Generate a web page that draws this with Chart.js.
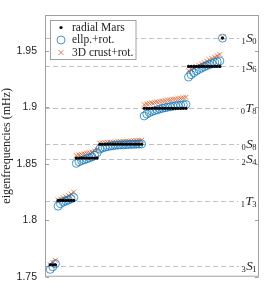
<!DOCTYPE html>
<html>
<head>
<meta charset="utf-8">
<script src="https://cdn.jsdelivr.net/npm/chart.js@4"></script>
<style>
  html, body { margin: 0; padding: 0; background: #fff; }
  #wrap { width: 269px; height: 291px; }
</style>
</head>
<body>
<div id="wrap"><canvas id="chart"></canvas></div>
<script>
// modes, in the order they appear along x
const modePre  = ['3', '1', '2', '0', '0', '1', '1']
const modeMain = ['S', 'T', 'S', 'S', 'T', 'S', 'S']
const modeSub  = ['1', '3', '4', '8', '8', '6', '0']
const modeSizes = [3, 7, 9, 17, 17, 13, 1]

// dashed reference frequency per mode (mHz)
const refFreq = [1.7593, 1.8167, 1.8546, 1.8680, 1.8999, 1.9364, 1.9619]

// radial Mars (degenerate multiplets)
const radialFreq = [1.7606, 1.8176, 1.8552, 1.8674, 1.8993, 1.9364, 1.9615]

// ellipticity + rotation, singlets
const ellpFreq = [
  1.7565, 1.7588, 1.7615,
  1.8125, 1.8148, 1.8162, 1.8171, 1.8180, 1.8190, 1.8202,
  1.8505, 1.8519, 1.8529, 1.8537, 1.8545, 1.8553, 1.8562, 1.8577, 1.8600,
  1.8632, 1.8641, 1.8648, 1.8654, 1.8658, 1.8662, 1.8665, 1.8667, 1.8669,
  1.8670, 1.8671, 1.8672, 1.8673, 1.8674, 1.8675, 1.8676, 1.8677,
  1.8925, 1.8942, 1.8955, 1.8965, 1.8973, 1.8980, 1.8987, 1.8993, 1.8998,
  1.9003, 1.9007, 1.9011, 1.9015, 1.9018, 1.9021, 1.9024, 1.9027,
  1.9270, 1.9291, 1.9309, 1.9324, 1.9338, 1.9350, 1.9361, 1.9371, 1.9380,
  1.9389, 1.9397, 1.9405, 1.9413,
  1.9615
]

// 3D crust + rotation, singlets
const crustFreq = [
  1.7605, 1.7626, 1.7646,
  1.8180, 1.8189, 1.8198, 1.8208, 1.8219, 1.8233, 1.8250,
  1.8574, 1.8579, 1.8584, 1.8589, 1.8594, 1.8599, 1.8605, 1.8614, 1.8626,
  1.8684, 1.8686, 1.8688, 1.8690, 1.8691, 1.8693, 1.8694, 1.8696, 1.8697,
  1.8699, 1.8700, 1.8702, 1.8703, 1.8705, 1.8706, 1.8708, 1.8710,
  1.9025, 1.9031, 1.9036, 1.9041, 1.9045, 1.9049, 1.9053, 1.9057, 1.9061,
  1.9065, 1.9068, 1.9072, 1.9075, 1.9079, 1.9082, 1.9086, 1.9090,
  1.9325, 1.9338, 1.9350, 1.9362, 1.9374, 1.9386, 1.9398, 1.9410, 1.9422,
  1.9434, 1.9446, 1.9458, 1.9470,
  1.9624
]

const yTicks = [1.75, 1.8, 1.85, 1.9, 1.95]
const yTickLabels = ['1.75', '1.8', '1.85', '1.9', '1.95']
const legendLabels = ['radial Mars', 'ellp.+rot.', '3D crust+rot.']

const FRAME = '#a0a0a0'
const SERIF = '"Liberation Serif", "DejaVu Serif", serif'

// singlet index along x
const xs = []
const radialPts = []
let k = 1
modeSizes.forEach((n, m) => {
  for (let i = 0; i < n; i++) {
    xs.push(k)
    radialPts.push({ x: k, y: radialFreq[m] })
    k++
  }
})
const ellpPts = xs.map((x, i) => ({ x: x, y: ellpFreq[i] }))
const crustPts = xs.map((x, i) => ({ x: x, y: crustFreq[i] }))

const datasets = [
  {
    label: legendLabels[0],
    data: radialPts,
    pointStyle: 'circle',
    pointRadius: 1.6,
    backgroundColor: '#000',
    borderColor: '#000',
    borderWidth: 0,
    order: 0
  },
  {
    label: legendLabels[1],
    data: ellpPts,
    pointStyle: 'circle',
    pointRadius: 4,
    backgroundColor: 'rgba(0,0,0,0)',
    borderColor: 'rgba(0, 114, 189, 0.72)',
    borderWidth: 1,
    order: 1
  },
  {
    label: legendLabels[2],
    data: crustPts,
    pointStyle: 'crossRot',
    pointRadius: 3.5,
    backgroundColor: 'rgba(0,0,0,0)',
    borderColor: 'rgba(217, 83, 25, 0.75)',
    borderWidth: 1,
    order: 2
  }
]

// dashed mode lines with their labels at the right
const modeLines = {
  id: 'modeLines',
  beforeDatasetsDraw(chart) {
    const { ctx, chartArea } = chart
    const y = chart.scales.y
    ctx.save()
    refFreq.forEach((f, i) => {
      const py = Math.round(y.getPixelForValue(f)) + 0.5
      ctx.font = '8.5px ' + SERIF
      const subW = ctx.measureText(modeSub[i]).width
      const preW = ctx.measureText(modePre[i]).width
      ctx.font = 'italic 13px ' + SERIF
      const mainW = ctx.measureText(modeMain[i]).width
      const endX = chartArea.right - 2.5
      const subX = endX - subW
      const mainX = subX - mainW + 0.5
      const preX = mainX - preW - 0.5

      ctx.strokeStyle = '#c0c0c0'
      ctx.lineWidth = 1
      ctx.setLineDash([5, 3])
      ctx.beginPath()
      ctx.moveTo(chartArea.left, py)
      ctx.lineTo(preX - 2.5, py)
      ctx.stroke()
      ctx.setLineDash([])

      ctx.fillStyle = '#222'
      ctx.textAlign = 'left'
      ctx.textBaseline = 'middle'
      ctx.font = 'italic 13px ' + SERIF
      ctx.fillText(modeMain[i], mainX, py)
      ctx.font = '8.5px ' + SERIF
      ctx.fillText(modePre[i], preX, py + 3.5)
      ctx.fillText(modeSub[i], subX, py + 3.5)
    })
    ctx.restore()
  }
}

// box, inward ticks and legend
const frame = {
  id: 'frame',
  afterDraw(chart) {
    const { ctx, chartArea } = chart
    const y = chart.scales.y
    const l = chartArea.left + 0.5
    const r = chartArea.right - 0.5
    const t = chartArea.top + 0.5
    const b = chartArea.bottom - 0.5
    ctx.save()
    ctx.strokeStyle = FRAME
    ctx.lineWidth = 1
    ctx.strokeRect(l, t, r - l, b - t)
    ctx.beginPath()
    yTicks.forEach(v => {
      const py = Math.round(y.getPixelForValue(v)) + 0.5
      ctx.moveTo(l, py)
      ctx.lineTo(l + 3.5, py)
      ctx.moveTo(r, py)
      ctx.lineTo(r - 3.5, py)
    })
    ctx.stroke()

    // legend
    const bx = 50.5, by = 20.5, bw = 85.5, bh = 39
    ctx.fillStyle = '#fff'
    ctx.fillRect(bx, by, bw, bh)
    ctx.strokeStyle = FRAME
    ctx.strokeRect(bx, by, bw, bh)
    const rows = [27.5, 40, 52.5]
    const mx = 61
    ctx.fillStyle = '#000'
    ctx.beginPath()
    ctx.arc(mx, rows[0], 1.6, 0, Math.PI * 2)
    ctx.fill()
    ctx.strokeStyle = datasets[1].borderColor
    ctx.beginPath()
    ctx.arc(mx, rows[1], 4, 0, Math.PI * 2)
    ctx.stroke()
    ctx.strokeStyle = datasets[2].borderColor
    Chart.helpers.drawPoint(ctx, { pointStyle: 'crossRot', radius: 3.5, borderWidth: 1 }, mx, rows[2])

    ctx.fillStyle = '#222'
    ctx.font = '11.5px ' + SERIF
    ctx.textAlign = 'left'
    ctx.textBaseline = 'middle'
    legendLabels.forEach((s, i) => ctx.fillText(s, 72, rows[i]))
    ctx.restore()
  }
}

new Chart(document.getElementById('chart').getContext('2d'), {
  type: 'scatter',
  data: { datasets: datasets },
  options: {
    responsive: true,
    maintainAspectRatio: false,
    animation: false,
    layout: { padding: { top: 15, right: 10, bottom: 9, left: 0 } },
    plugins: {
      legend: { display: false },
      tooltip: { enabled: false }
    },
    scales: {
      x: {
        type: 'linear',
        min: -1,
        max: 81,
        display: false
      },
      y: {
        type: 'linear',
        min: 1.75,
        max: 1.982,
        afterBuildTicks: scale => {
          scale.ticks = yTicks.map(v => ({ value: v }))
        },
        afterFit: scale => {
          scale.width = 45
        },
        grid: { display: false, drawTicks: false },
        border: { display: false },
        ticks: {
          padding: 8,
          color: '#262626',
          font: { family: '"Liberation Sans", Arial, sans-serif', size: 10.5 },
          callback: (value, index) => yTickLabels[index]
        },
        title: {
          display: true,
          text: 'eigenfrequencies (mHz)',
          color: '#222',
          padding: { top: 0, bottom: 0 },
          font: { family: SERIF, size: 12 }
        }
      }
    }
  },
  plugins: [modeLines, frame]
})
</script>
</body>
</html>
